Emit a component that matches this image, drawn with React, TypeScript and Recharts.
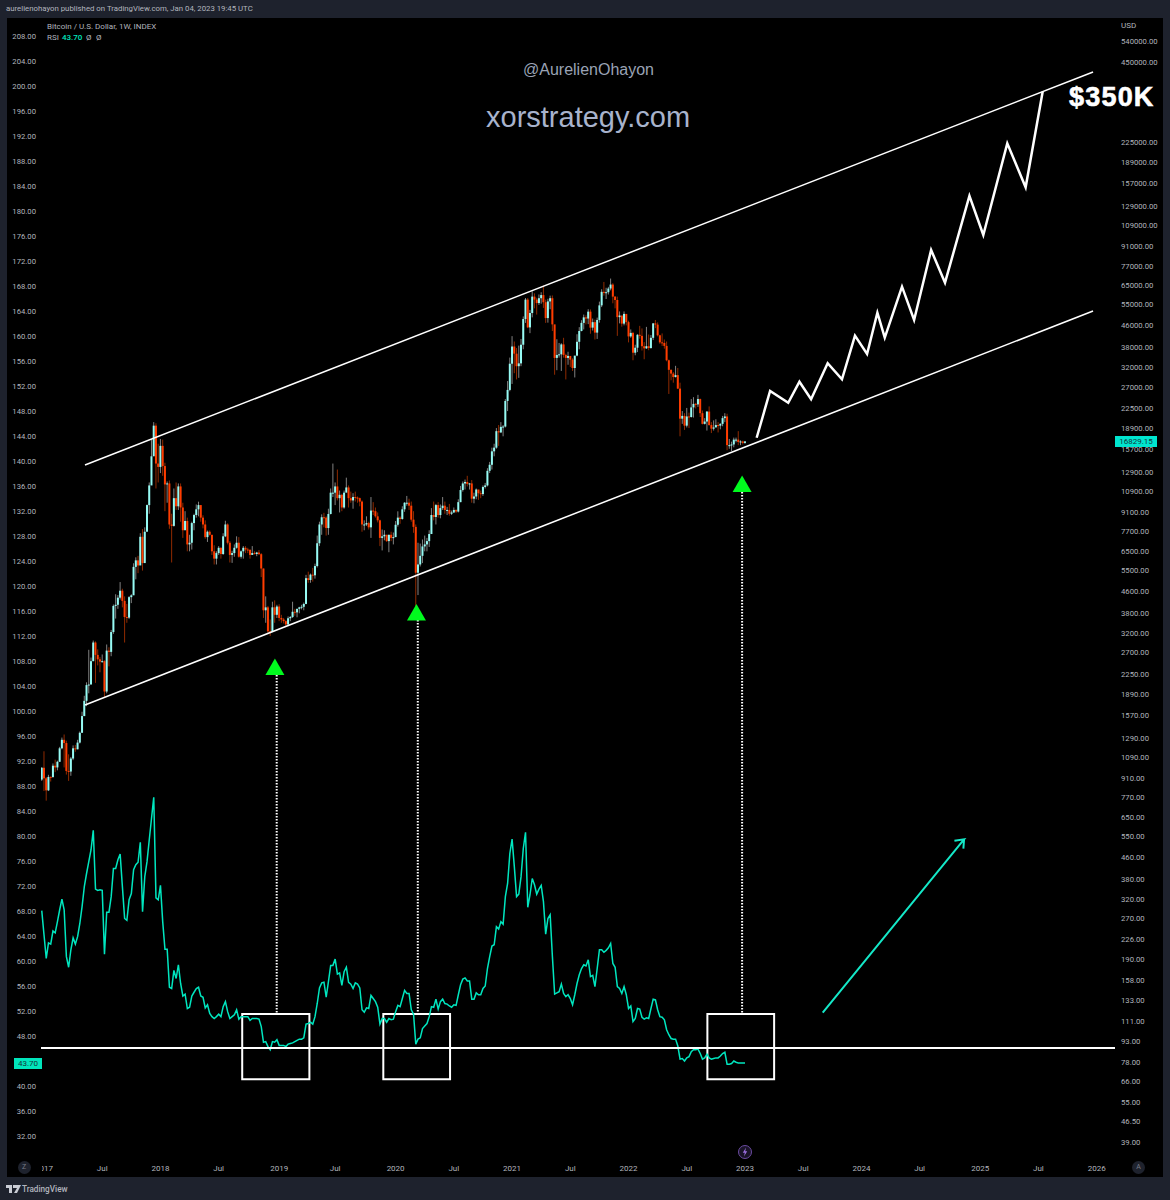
import { Bar, ComposedChart, Line, ReferenceArea, ReferenceDot, ReferenceLine, XAxis, YAxis } from 'recharts'

// weekly candles, index -1 is the week of 26 Dec 2016, one row = 10 weeks
const closes = [
  997, 910, 820, 921, 920, 1015, 1000, 1050, 1180, 1270,
  1235, 970, 965, 1080, 1180, 1170, 1240, 1350, 1560, 1780,
  2040, 2050, 2510, 2950, 2650, 2550, 2500, 2510, 1930, 2750,
  2720, 3230, 4050, 4090, 4350, 4620, 4230, 3680, 3660, 4370,
  4440, 5680, 6010, 5750, 7370, 5870, 7700, 9700, 11500, 14800,
  19300, 13900, 13500, 16200, 13600, 11600, 11700, 8200, 8100, 10300,
  9600, 11400, 9500, 7800, 8450, 6900, 7000, 8300, 8900, 9350,
  9700, 8700, 8200, 7350, 7700, 7500, 6500, 6100, 6400, 6700,
  6350, 7400, 8200, 7000, 6300, 6400, 6700, 7000, 6200, 6500,
  6700, 6600, 6580, 6300, 6400, 6350, 6430, 6340, 5600, 3900,
  4000, 3250, 3230, 4000, 3750, 4030, 3650, 3600, 3550, 3450,
  3640, 3680, 3850, 3830, 3950, 4000, 4020, 4120, 5150, 5070,
  5310, 5280, 5720, 6970, 8200, 8730, 8700, 7950, 8980, 10800,
  10800, 11400, 10300, 10600, 9500, 10800, 11300, 10300, 10100, 10400,
  10350, 10300, 10000, 8200, 8200, 8300, 8000, 9250, 9200, 8800,
  8500, 7300, 7400, 7500, 7100, 7500, 7300, 7350, 8180, 8700,
  8600, 9350, 9900, 9900, 9650, 8550, 8030, 5400, 5800, 6250,
  6780, 6900, 7100, 7550, 8900, 8750, 9700, 8900, 9450, 9650,
  9300, 9300, 9000, 9100, 9300, 9170, 9950, 11050, 11700, 11850,
  11650, 11700, 10250, 10450, 11100, 10750, 10670, 11350, 11500, 13050,
  13750, 15450, 15950, 18400, 18200, 19100, 19150, 23900, 26300, 33000,
  38300, 36000, 32300, 33100, 38900, 48600, 57500, 45200, 51200, 59000,
  57500, 55800, 58200, 59800, 56200, 49000, 56600, 58200, 46400, 34700,
  35600, 35800, 39000, 35600, 34700, 35300, 34200, 31800, 35400, 39900,
  43800, 47000, 49300, 48800, 51800, 45100, 47300, 43200, 48200, 54700,
  61500, 60900, 61300, 63300, 65500, 59000, 57300, 49400, 50100, 46700,
  50800, 47300, 41800, 43100, 36300, 37900, 42400, 42000, 38400, 37700,
  38400, 37800, 41300, 46800, 46300, 42200, 39700, 39500, 38500, 34000,
  31300, 30300, 29400, 29900, 26600, 20500, 21000, 19300, 20900, 20800,
  22600, 23300, 23200, 24300, 21500, 19600, 20000, 21800, 19400, 18800,
  19000, 19400, 19300, 19600, 20600, 20900, 16300, 16300, 16400, 17100,
  17100, 16750, 16830, 16620, 16829,
]

const highs = [
  1003, 1150, 920, 938, 925, 1035, 1070, 1060, 1195, 1295,
  1330, 1260, 1120, 1095, 1210, 1215, 1270, 1365, 1620, 1860,
  2090, 2770, 2590, 3000, 2980, 2780, 2600, 2660, 2530, 2900,
  2830, 3290, 4100, 4480, 4450, 4980, 4700, 4400, 4120, 4410,
  4480, 5860, 6170, 6250, 7600, 7880, 8000, 9750, 11800, 17200,
  19900, 19700, 16500, 17200, 17100, 14000, 11900, 12000, 9000, 11200,
  11800, 11700, 11700, 9900, 9200, 8700, 7500, 8400, 9000, 9750,
  9990, 9700, 8880, 8500, 7780, 7790, 7000, 6850, 6500, 6800,
  6720, 7600, 8470, 8280, 7100, 6530, 6900, 7400, 7350, 6550,
  6800, 6800, 6700, 6620, 6800, 6500, 6470, 6570, 6400, 5600,
  4400, 4050, 3600, 4200, 4250, 4090, 4110, 3750, 3650, 3580,
  3700, 3710, 4200, 3950, 3950, 4020, 4090, 4170, 5300, 5450,
  5360, 5630, 5840, 7450, 8400, 8950, 9070, 8800, 9400, 11200,
  13900, 11800, 13200, 11000, 10700, 11000, 12300, 11500, 10900, 10750,
  10900, 10450, 10350, 10100, 8500, 8800, 8400, 10400, 9950, 9500,
  9100, 8550, 7850, 7800, 7500, 7500, 7700, 7650, 8450, 9190,
  8800, 9600, 9950, 10500, 10250, 10000, 9200, 8200, 7000, 6950,
  7200, 7450, 7300, 7800, 9450, 10000, 9800, 9950, 9750, 10400,
  10000, 9550, 9800, 9250, 9500, 9350, 10200, 11450, 11900, 12100,
  12500, 11750, 12050, 10800, 11200, 10950, 11000, 11500, 11750, 13350,
  14100, 15950, 16500, 18900, 19400, 19900, 19400, 24300, 28400, 34800,
  41900, 40000, 37800, 38600, 40900, 49700, 58300, 58300, 52600, 61800,
  60700, 58400, 60100, 61300, 64900, 57500, 57900, 59500, 59600, 45800,
  40800, 39500, 39400, 41300, 36000, 36600, 35100, 34600, 35000, 42600,
  45300, 48100, 50500, 50200, 52900, 52800, 48800, 48400, 49200, 56500,
  62900, 67000, 63700, 64200, 69000, 66300, 59300, 59000, 51900, 49500,
  51900, 48500, 47900, 44400, 43500, 38900, 42600, 45800, 44800, 39800,
  45400, 42500, 42300, 46900, 48200, 47200, 42400, 42900, 40700, 40000,
  34200, 31400, 30700, 32400, 31800, 28000, 21900, 21500, 22500, 21600,
  24300, 24700, 23500, 25200, 24400, 22000, 20600, 21900, 22800, 19900,
  20200, 20400, 19900, 19700, 21000, 21500, 21400, 17200, 16800, 17400,
  17400, 18400, 17000, 16950, 16900,
]

const lows = [
  890, 815, 750, 815, 885, 915, 960, 975, 1050, 1170,
  1000, 940, 890, 930, 1065, 1145, 1170, 1230, 1350, 1560,
  1700, 1900, 2090, 2510, 2080, 2420, 2280, 2480, 1830, 1900,
  2400, 2620, 3180, 3630, 3950, 4280, 4000, 2950, 3500, 3620,
  4150, 4550, 5100, 5380, 6050, 5500, 6000, 7850, 9000, 11700,
  14900, 11200, 11800, 12800, 12500, 9200, 9900, 7900, 5900, 8050,
  9300, 9300, 8400, 7300, 8000, 6500, 6500, 6600, 7800, 8700,
  8800, 8400, 7930, 7250, 7050, 7450, 6300, 5800, 5800, 6300,
  6100, 6300, 7350, 6900, 5900, 5880, 6200, 6650, 6150, 6100,
  6100, 6400, 6400, 6100, 6300, 6330, 6230, 6300, 5200, 3650,
  3500, 3200, 3120, 3230, 3500, 3650, 3550, 3500, 3480, 3370,
  3400, 3550, 3650, 3720, 3670, 3800, 3930, 3900, 4110, 4950,
  4950, 5000, 5130, 5650, 6800, 7500, 8000, 7450, 7500, 8950,
  10400, 9700, 10100, 9100, 9200, 9400, 10900, 9500, 9900, 9400,
  10000, 9900, 9600, 7700, 7800, 8100, 7850, 7300, 8900, 8700,
  8350, 6800, 6550, 7150, 7050, 6450, 7100, 6900, 7350, 8050,
  8250, 8550, 9150, 9650, 9300, 8400, 7630, 3850, 4450, 5700,
  5870, 6500, 6500, 6750, 7650, 8500, 8200, 8700, 8650, 9300,
  9000, 8900, 8850, 8900, 9050, 9050, 9100, 9950, 10900, 11100,
  11400, 11100, 9900, 9850, 10200, 10150, 10300, 10500, 11200, 11400,
  12800, 13200, 14800, 15800, 16200, 18100, 17600, 19000, 21900, 26000,
  27700, 30400, 28800, 29200, 32300, 37400, 47000, 44900, 43000, 49300,
  53300, 50500, 54900, 55500, 53500, 47000, 47100, 52900, 43800, 30000,
  31200, 34800, 31000, 34800, 28800, 32700, 32100, 31000, 29300, 35200,
  37400, 43700, 44400, 46400, 46500, 42800, 44000, 40700, 40900, 47100,
  53900, 59500, 57800, 60100, 62300, 55700, 53300, 42000, 46800, 45500,
  46000, 46000, 39700, 41300, 34000, 35500, 36500, 41000, 37000, 34300,
  37500, 37100, 37600, 40500, 44900, 41800, 39200, 38500, 37600, 33700,
  25400, 28600, 28000, 29300, 26500, 17600, 19600, 18600, 19000, 18900,
  20700, 20700, 22400, 22700, 20800, 19500, 19500, 18500, 19300, 18100,
  18500, 19100, 18200, 18700, 19200, 19900, 15600, 15800, 15500, 16000,
  16700, 16300, 16300, 16400, 16500,
]

const rsi = [
  68.05, 64.2, 60.4, 62.9, 62.7, 64.8, 64.5, 66.3, 68.2, 69.9,
  68.2, 60.7, 59.0, 61.8, 63.7, 62.7, 63.9, 66.0, 68.7, 71.9,
  74.0, 75.9, 77.8, 80.9, 71.5, 71.3, 71.4, 71.3, 61.1, 67.8,
  67.8, 70.3, 74.8, 74.8, 76.2, 77.1, 71.9, 66.8, 66.5, 69.8,
  70.8, 74.6, 75.4, 75.8, 79.0, 67.9, 73.5, 75.9, 79.4, 82.8,
  86.2, 70.1, 69.8, 72.1, 66.3, 61.9, 61.9, 55.8, 55.6, 58.5,
  57.2, 59.4, 56.4, 54.4, 54.7, 52.4, 52.6, 54.4, 55.0, 55.6,
  55.8, 54.4, 54.2, 52.5, 53.0, 51.6, 51.1, 50.8, 51.1, 51.5,
  51.1, 52.7, 53.5, 51.9, 50.8, 51.1, 51.4, 52.2, 50.7, 51.1,
  51.1, 51.1, 51.1, 50.5, 50.8, 50.8, 50.8, 50.7, 49.5, 47.0,
  47.1, 46.3, 45.8, 47.1, 47.0, 47.4, 46.5, 46.5, 46.5, 46.3,
  46.7, 46.8, 46.9, 47.1, 47.3, 47.5, 47.5, 47.7, 49.9, 50.0,
  50.2, 49.9, 51.1, 53.2, 55.7, 56.5, 56.6, 54.2, 56.7, 59.3,
  59.3, 60.3, 57.9, 58.1, 56.1, 58.3, 59.0, 56.6, 56.3, 55.6,
  56.5, 56.3, 55.7, 52.2, 51.8, 52.5, 52.4, 54.5, 54.0, 53.5,
  52.6, 49.9, 50.8, 50.8, 50.2, 50.8, 50.6, 50.7, 51.9, 52.9,
  52.7, 54.0, 55.3, 54.8, 54.8, 52.2, 51.5, 46.7, 47.5, 47.7,
  49.2, 49.6, 50.0, 51.1, 52.7, 52.6, 53.9, 52.3, 53.5, 53.9,
  53.2, 53.1, 52.8, 52.6, 53.0, 52.9, 54.6, 56.2, 57.1, 57.3,
  56.8, 56.8, 53.9, 53.9, 54.9, 54.6, 54.6, 55.6, 56.0, 58.8,
  60.7, 62.4, 62.6, 65.5, 65.1, 66.3, 65.9, 70.3, 72.4, 77.2,
  79.5, 75.1, 70.3, 70.7, 73.5, 78.0, 80.6, 68.6, 70.6, 73.2,
  72.2, 70.7, 71.5, 72.1, 69.5, 64.3, 66.8, 67.4, 60.7, 54.7,
  54.9, 55.1, 56.3, 54.8, 54.3, 54.6, 54.0, 53.0, 54.6, 56.4,
  57.8, 58.8, 59.4, 59.2, 60.2, 57.5, 57.7, 55.9, 58.8, 61.8,
  61.8, 61.4, 61.7, 62.1, 62.8, 59.6, 59.0, 55.9, 55.6, 54.8,
  55.9, 54.6, 52.4, 52.8, 50.3, 50.8, 52.4, 52.3, 51.0, 50.7,
  50.9, 50.8, 52.4, 53.9, 53.8, 52.2, 51.1, 51.0, 50.6, 49.0,
  48.2, 47.6, 47.5, 47.5, 46.4, 44.3, 44.4, 44.0, 44.5, 44.7,
  45.5, 45.8, 45.8, 45.9, 45.2, 44.3, 44.5, 45.1, 44.5, 44.3,
  44.4, 44.5, 44.5, 44.8, 45.2, 45.4, 43.5, 43.5, 43.6, 44.0,
  43.8, 43.7, 43.7, 43.7, 43.7,
]

const xTicks = [0, 26, 52, 78, 105, 130, 157, 183, 209, 235, 261, 287, 313, 339, 365, 391, 418, 444, 470]
const xTickLabels = ['2017', 'Jul', '2018', 'Jul', '2019', 'Jul', '2020', 'Jul', '2021', 'Jul', '2022', 'Jul', '2023', 'Jul', '2024', 'Jul', '2025', 'Jul', '2026']

const rsiTicks = [208, 204, 200, 196, 192, 188, 184, 180, 176, 172, 168, 164, 160, 156, 152, 148, 144, 140, 136, 132, 128, 124, 120, 116, 112, 108, 104, 100, 96, 92, 88, 84, 80, 76, 72, 68, 64, 60, 56, 52, 48, 44, 40, 36, 32]
const priceTicks = [540000, 450000, 225000, 189000, 157000, 129000, 109000, 91000, 77000, 65000, 55000, 46000, 38000, 32000, 27000, 22500, 18900, 15700, 12900, 10900, 9100, 7700, 6500, 5500, 4600, 3800, 3200, 2700, 2250, 1890, 1570, 1290, 1090, 910, 770, 650, 550, 460, 380, 320, 270, 226, 190, 158, 133, 111, 93, 78, 66, 55, 46.5, 39]

// drawn forecast, [week, price]
const forecastWeeks = [318.2, 324.2, 332.3, 337.3, 342.5, 349.9, 356.3, 362.1, 367.5, 372.1, 375.4, 383.1, 388.5, 396.1, 402.3, 413.2, 419.4, 430.1, 438.3, 445.9]
const forecastPrices = [17380, 26070, 23540, 28240, 24250, 33130, 28840, 42070, 35900, 51340, 41330, 64320, 48170, 88340, 66580, 141100, 100650, 222600, 152100, 348100]

// rsi pane arrow, the last points make the head
const arrowWeeks = [347.7, 410.8, 406.5, 410.8, 410.5]
const arrowValues = [51.73, 79.47, 79.25, 79.47, 77.97]

const candles = closes.map((close, i) => ({
  week: i - 1,
  open: i === 0 ? 900 : closes[i - 1],
  close,
  range: [lows[i], highs[i]],
  rsi: rsi[i],
}))
const forecast = forecastWeeks.map((week, i) => ({ week, price: forecastPrices[i] }))
const arrow = arrowWeeks.map((week, i) => ({ week, value: arrowValues[i] }))

// channel lines, annotation boxes and arrows of the author
const upperChannel = [{ x: 18.3, y: 13730 }, { x: 468.4, y: 412800 }]
const lowerChannel = [{ x: 18.3, y: 1718 }, { x: 468.4, y: 52100 }]
const boxes = [[88.5, 118.5], [151.5, 181.3], [296.2, 326]]
const triangles = [[103.1, 2387], [166.3, 3825], [311.7, 11650]]
const guides = [[103.9, 105.76], [166.9, 114.56], [311.7, 135.04]]

const TEXT = '#b2b5bd'
const FONT = 'Roboto, sans-serif'
const ARIAL = '"Liberation Sans", sans-serif'

// wick and body out of the [low, high] bar, open and close placed on the log scale
function Candle(props: any) {
  const { x, y, width, height, payload } = props
  const [low, high] = payload.range
  const span = Math.log(high / low) || 1
  const at = (v: number) => y + (height * Math.log(high / v)) / span
  const up = payload.close >= payload.open
  const top = at(Math.max(payload.open, payload.close))
  const bottom = at(Math.min(payload.open, payload.close))
  const cx = x + width / 2
  return (
    <g>
      <rect x={cx - 0.5} y={y} width={1} height={height} fill={up ? '#808080' : '#8f2a00'} />
      <rect x={cx - 1} y={top} width={2} height={Math.max(bottom - top, 1)} fill={up ? '#96fbf4' : '#ff3d00'} />
    </g>
  )
}

function Triangle(props: any) {
  const { cx, cy } = props
  return <path d={`M${cx} ${cy - 8.5} L${cx + 9.5} ${cy + 8} L${cx - 9.5} ${cy + 8} Z`} fill="#00fa1e" />
}

function TimeTick(props: any) {
  const { x, y, payload } = props
  const label = xTickLabels[xTicks.indexOf(payload.value)]
  return (
    <g clipPath={payload.value === 0 ? 'url(#first-tick)' : undefined}>
      {payload.value === 0 && (
        <clipPath id="first-tick">
          <rect x={42} y={y - 12} width={30} height={24} />
        </clipPath>
      )}
      <text x={x} y={y + 3} textAnchor="middle" fill={TEXT} fontSize={8} fontFamily={FONT}>
        {label}
      </text>
    </g>
  )
}

const abs = (left: number, top: number, extra: any) => ({ position: 'absolute', left, top, whiteSpace: 'nowrap', fontFamily: FONT, lineHeight: 1, ...extra })

export default function App() {
  return (
    <div style={{ position: 'absolute', left: 0, top: 0, width: 1170, height: 1200, background: '#1e222d', overflow: 'hidden' }}>
      <div style={{ position: 'absolute', left: 7, top: 18, width: 1156, height: 1159, background: '#000' }} />
      <div style={{ position: 'absolute', left: 0, top: 0 }}>
        <ComposedChart width={1170} height={1200} data={candles} margin={{ top: 18, right: 7, bottom: 23, left: 7 }}>
          <XAxis
            dataKey="week"
            type="number"
            domain={[-1.34, 478.2]}
            allowDataOverflow
            ticks={xTicks}
            interval={0}
            height={17}
            axisLine={false}
            tickLine={false}
            tick={<TimeTick />}
          />
          <YAxis
            yAxisId="rsi"
            orientation="left"
            type="number"
            domain={[28.16, 210.88]}
            allowDataOverflow
            ticks={rsiTicks}
            interval={0}
            width={34}
            axisLine={false}
            tickLine={false}
            tickSize={0}
            tickMargin={5}
            tickFormatter={(v: number) => v.toFixed(2)}
            tick={{ fill: TEXT, fontSize: 7.7, fontFamily: FONT }}
          />
          <YAxis
            yAxisId="price"
            orientation="right"
            type="number"
            scale="log"
            domain={[33.37, 659000]}
            allowDataOverflow
            ticks={priceTicks}
            interval={0}
            width={48}
            axisLine={false}
            tickLine={false}
            tickSize={0}
            tickMargin={6}
            tickFormatter={(v: number) => v.toFixed(2)}
            tick={{ fill: TEXT, fontSize: 7.7, fontFamily: FONT, textAnchor: 'start' }}
          />
          <Bar yAxisId="price" dataKey="range" barSize={2} shape={<Candle />} isAnimationActive={false} />
          <Line yAxisId="rsi" dataKey="rsi" stroke="#00e6bf" strokeWidth={1.5} dot={false} isAnimationActive={false} />
          <ReferenceLine yAxisId="price" segment={upperChannel} stroke="#fff" strokeWidth={1.5} />
          <ReferenceLine yAxisId="price" segment={lowerChannel} stroke="#fff" strokeWidth={1.5} />
          <Line yAxisId="price" data={forecast} dataKey="price" stroke="#fff" strokeWidth={2.5} dot={false} isAnimationActive={false} />
          <Line yAxisId="rsi" data={arrow} dataKey="value" stroke="#14e8c8" strokeWidth={2} dot={false} isAnimationActive={false} />
          <ReferenceLine yAxisId="rsi" y={46.08} stroke="#fff" strokeWidth={2} />
          {boxes.map(([x1, x2]) => (
            <ReferenceArea key={x1} yAxisId="rsi" x1={x1} x2={x2} y1={41.07} y2={51.52} fill="none" stroke="#fff" strokeWidth={2} />
          ))}
          {guides.map(([x, top]) => (
            <ReferenceLine
              key={x}
              yAxisId="rsi"
              segment={[{ x, y: top }, { x, y: 51.68 }]}
              stroke="#fff"
              strokeWidth={2}
              strokeDasharray="1.5 1.5"
            />
          ))}
          {triangles.map(([x, y]) => (
            <ReferenceDot key={x} yAxisId="price" x={x} y={y} shape={<Triangle />} />
          ))}
        </ComposedChart>
      </div>

      <div style={abs(6, 5, { fontSize: 7.8, color: '#b2b5be' })}>aurelienohayon published on TradingView.com, Jan 04, 2023 19:45 UTC</div>
      <div style={abs(47, 23, { fontSize: 8, color: TEXT })}>Bitcoin / U.S. Dollar, 1W, INDEX</div>
      <div style={abs(47, 34, { fontSize: 8, color: TEXT })}>RSI</div>
      <div style={abs(62, 34, { fontSize: 8, fontWeight: 500, color: '#00e6bf' })}>43.70</div>
      <div style={abs(86, 34, { fontSize: 8, color: TEXT })}>Ø</div>
      <div style={abs(96, 34, { fontSize: 8, color: TEXT })}>Ø</div>
      <div style={abs(1121, 22, { fontSize: 8, color: TEXT })}>USD</div>

      <div style={abs(523, 62, { fontSize: 16, color: '#9aa3b5', fontFamily: ARIAL })}>@AurelienOhayon</div>
      <div style={abs(486, 103, { fontSize: 29, color: '#a8b3cc', fontFamily: ARIAL })}>xorstrategy.com</div>
      <div
        style={abs(1069, 84, {
          fontSize: 27,
          fontWeight: 700,
          letterSpacing: 1.2,
          color: '#fff',
          WebkitTextStroke: '0.6px #fff',
          fontFamily: ARIAL,
        })}
      >
        $350K
      </div>

      <div style={abs(1115, 436, { width: 42, height: 11, background: '#00e5cf', color: '#14363a', fontSize: 8, lineHeight: '11px', textAlign: 'center' })}>16829.15</div>
      <div style={abs(14, 1058, { width: 28, height: 11, background: '#00e5bb', color: '#14363a', fontSize: 8, lineHeight: '11px', textAlign: 'center' })}>43.70</div>

      <div style={abs(17.5, 1161, { width: 13, height: 13, borderRadius: 7, background: '#1e222d', color: '#787b86', fontSize: 7, lineHeight: '13px', textAlign: 'center' })}>Z</div>
      <div style={abs(1132, 1161, { width: 13, height: 13, borderRadius: 7, background: '#1e222d', color: '#787b86', fontSize: 7, lineHeight: '13px', textAlign: 'center' })}>A</div>
      <svg style={{ position: 'absolute', left: 737, top: 1144 }} width={16} height={16}>
        <circle cx={8} cy={8} r={6.5} fill="#1a1428" stroke="#6a4aa0" strokeWidth={1} />
        <path d="M9 3.5 L5.8 8.7 L7.8 8.7 L7 12.5 L10.2 7.3 L8.2 7.3 Z" fill="#9c6fe0" />
      </svg>

      <svg style={{ position: 'absolute', left: 6, top: 1185 }} width={15} height={8}>
        <path d="M0 0 H6 V8 H3 V3 H0 Z M7 0 H15 L11 8 H8 L11 3 H7 Z" fill="#c9ccd4" />
      </svg>
      <div style={abs(22, 1185, { fontSize: 8.2, fontWeight: 500, color: '#b2b5be' })}>TradingView</div>
    </div>
  )
}
